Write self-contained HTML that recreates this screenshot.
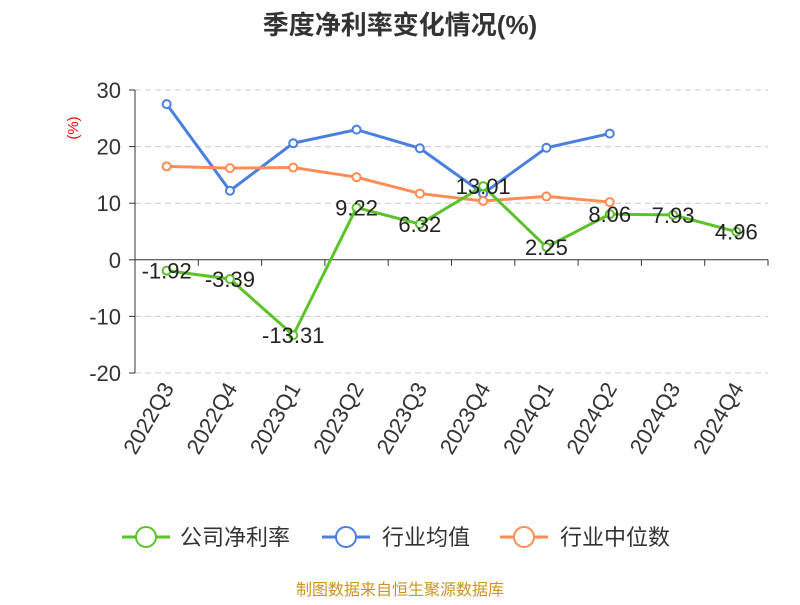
<!DOCTYPE html>
<html><head><meta charset="utf-8"><style>
body{margin:0;background:#fff;}
svg text{font-family:"Liberation Sans","Noto Sans CJK SC",sans-serif;}
</style></head><body>
<svg id="chart" width="800" height="600" xmlns="http://www.w3.org/2000/svg">
<text x="400" y="34" text-anchor="middle" font-size="26" font-weight="bold" fill="#333">季度净利率变化情况(%)</text>
<text x="78" y="128" text-anchor="middle" font-size="15" fill="#e00" transform="rotate(-90 78 128)">(%)</text>
<g id="grid"></g><g id="axes"></g><g id="series"></g>
<g>
<g><line x1="122" y1="537" x2="170" y2="537" stroke="#5cc22a" stroke-width="3"/><circle cx="146" cy="537" r="10" fill="#fff" stroke="#5cc22a" stroke-width="2"/><text x="180" y="545" font-size="22" fill="#333">公司净利率</text></g>
<g><line x1="322" y1="537" x2="370" y2="537" stroke="#4a7fe0" stroke-width="3"/><circle cx="346" cy="537" r="10" fill="#fff" stroke="#4a7fe0" stroke-width="2"/><text x="382" y="545" font-size="22" fill="#333">行业均值</text></g>
<g><line x1="500" y1="537" x2="548" y2="537" stroke="#ff8c55" stroke-width="3"/><circle cx="524" cy="537" r="10" fill="#fff" stroke="#ff8c55" stroke-width="2"/><text x="560" y="545" font-size="22" fill="#333">行业中位数</text></g>
</g>
<text x="400" y="595" text-anchor="middle" font-size="16" fill="#c8961e">制图数据来自恒生聚源数据库</text>
</svg>
<script>
const categories=["2022Q3","2022Q4","2023Q1","2023Q2","2023Q3","2023Q4","2024Q1","2024Q2","2024Q3","2024Q4"];
const companyVals=[-1.92,-3.39,-13.31,9.22,6.32,13.01,2.25,8.06,7.93,4.96];
const avgVals=[27.5,12.2,20.6,23.0,19.7,11.7,19.8,22.3];
const medianVals=[16.5,16.2,16.3,14.6,11.7,10.4,11.2,10.2];
const yTicks=[30,20,10,0,-10,-20];
const NS="http://www.w3.org/2000/svg";
const x0=135,x1=768,yTop=90,yBot=373,vMax=30,vMin=-20;
const step=(x1-x0)/categories.length;
function xs(i){return x0+step*(i+0.5);}
function ys(v){return yTop+(vMax-v)/(vMax-vMin)*(yBot-yTop);}
function mk(tag,attrs,parent){const e=document.createElementNS(NS,tag);for(const k in attrs)e.setAttribute(k,attrs[k]);parent.appendChild(e);return e;}
const grid=document.getElementById('grid'),axes=document.getElementById('axes'),ser=document.getElementById('series');
yTicks.forEach(t=>{
  const y=ys(t);
  if(t!==0){const l=mk('line',{x1:x0,x2:x1,y1:y,y2:y,stroke:'#ccc','stroke-dasharray':'6,4'},grid);
  
  }
  const tk=mk('line',{x1:x0-6,x2:x0,y1:y,y2:y,stroke:'#333'},axes);
  
  
  const tx=mk('text',{x:x0-14,y:y+8,'text-anchor':'end','font-size':'22',fill:'#333'},axes);tx.textContent=t;
  
  
});
const ya=mk('line',{x1:x0,x2:x0,y1:yTop,y2:yBot,stroke:'#333'},axes);


const xa=mk('line',{x1:x0,x2:x1,y1:ys(0),y2:ys(0),stroke:'#333'},axes);


for(let i=0;i<=categories.length;i++){const x=x0+step*i;const t=mk('line',{x1:x,x2:x,y1:ys(0),y2:ys(0)+6,stroke:'#333'},axes);

}
categories.forEach((c,i)=>{const x=xs(i)+8,y=388;const t=mk('text',{x:x,y:y,'text-anchor':'end','font-size':'22',fill:'#333',transform:`rotate(-60 ${x} ${y})`},axes);t.textContent=c;

});
function drawLine(vals,color,name,labels){
  const pts=vals.map((v,i)=>xs(i)+','+ys(v)).join(' ');
  const pl=mk('polyline',{points:pts,fill:'none',stroke:color,'stroke-width':3},ser);
  
  
  vals.forEach((v,i)=>{const c=mk('circle',{cx:xs(i),cy:ys(v),r:4,fill:'#fff',stroke:color,'stroke-width':2},ser);
  
  
  if(labels){const t=mk('text',{x:xs(i),y:ys(v)+8,'text-anchor':'middle','font-size':'22',fill:'#222'},ser);t.textContent=v.toFixed(2);
  
  }});
}
drawLine(avgVals,'#4a7fe0','industry-avg',false);
drawLine(medianVals,'#ff8c55','industry-median',false);
drawLine(companyVals,'#5cc22a','company',true);
</script>
</body></html>
